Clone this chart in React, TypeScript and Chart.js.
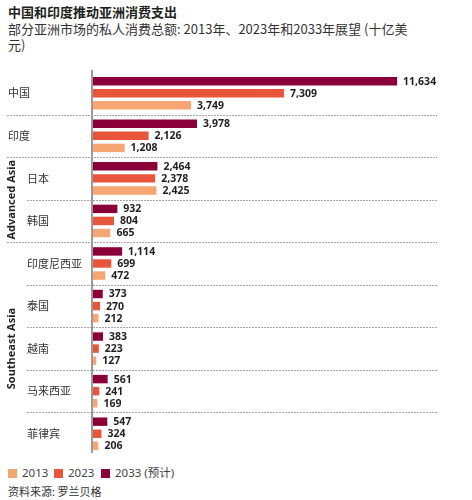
import { useEffect, useRef } from "react";
import { Chart, registerables, type Plugin } from "chart.js";

Chart.register(...registerables);

const TITLE = "中国和印度推动亚洲消费支出";
const SUBTITLE_1 = "部分亚洲市场的私人消费总额: 2013年、2023年和2033年展望 (十亿美";
const SUBTITLE_2 = "元)";
const SOURCE = "资料来源: 罗兰贝格";

const categories = ["中国", "印度", "日本", "韩国", "印度尼西亚", "泰国", "越南", "马来西亚", "菲律宾"];
const values2033 = [11634, 3978, 2464, 932, 1114, 373, 383, 561, 547];
const values2023 = [7309, 2126, 2378, 804, 699, 270, 223, 241, 324];
const values2013 = [3749, 1208, 2425, 665, 472, 212, 127, 169, 206];

// regional groups (category index ranges)
const groups = [
  { label: "Advanced Asia", from: 2, to: 3 },
  { label: "Southeast Asia", from: 4, to: 8 },
];

const C2033 = "#8b0038";
const C2023 = "#e9553b";
const C2013 = "#f5a673";
const INK = "#231f20";
const SANS = "'Noto Sans', 'Noto Sans CJK SC', sans-serif";
const CJK = "'Noto Sans CJK SC', 'Noto Sans', sans-serif";

const inGroup = (i: number) => groups.some((g) => i >= g.from && i <= g.to);

const decor: Plugin<"bar"> = {
  id: "decor",
  beforeDatasetsDraw(chart) {
    const { ctx, chartArea } = chart;
    const y = chart.scales.y;
    ctx.save();
    // dashed separators between categories
    ctx.strokeStyle = "#a6a6a6";
    ctx.lineWidth = 1;
    ctx.setLineDash([2, 1]);
    for (let i = 0; i < categories.length - 1; i++) {
      const yy = Math.round((y.getPixelForValue(i) + y.getPixelForValue(i + 1)) / 2) + 0.5;
      const sameGroup = groups.some((g) => i >= g.from && i + 1 <= g.to);
      const x0 = sameGroup ? 27 : 7;
      ctx.beginPath();
      ctx.moveTo(x0, yy);
      ctx.lineTo(chartArea.right, yy);
      ctx.stroke();
    }
    ctx.setLineDash([]);
    // vertical axis line
    ctx.strokeStyle = "#9a9a9a";
    ctx.lineWidth = 2;
    ctx.beginPath();
    ctx.moveTo(chartArea.left - 1, chartArea.top - 2);
    ctx.lineTo(chartArea.left - 1, chartArea.bottom - 2);
    ctx.stroke();
    ctx.restore();
  },
  afterDatasetsDraw(chart) {
    const { ctx } = chart;
    const y = chart.scales.y;
    ctx.save();
    // value labels
    ctx.fillStyle = INK;
    ctx.font = `bold 10.5px ${SANS}`;
    ctx.textBaseline = "middle";
    ctx.textAlign = "left";
    chart.data.datasets.forEach((ds, d) => {
      const meta = chart.getDatasetMeta(d);
      meta.data.forEach((el, i) => {
        const v = ds.data[i] as number;
        ctx.fillText(v.toLocaleString("en-US"), el.x + 6, el.y + 0.5);
      });
    });
    // category labels
    ctx.fillStyle = "#333";
    ctx.font = `11px ${CJK}`;
    categories.forEach((c, i) => {
      ctx.fillText(c, inGroup(i) ? 27 : 8, y.getPixelForValue(i));
    });
    // rotated group labels
    ctx.fillStyle = INK;
    ctx.font = `bold 11px ${SANS}`;
    ctx.textAlign = "center";
    groups.forEach((g) => {
      const cy = (y.getPixelForValue(g.from) + y.getPixelForValue(g.to)) / 2;
      ctx.save();
      ctx.translate(12, cy);
      ctx.rotate(-Math.PI / 2);
      ctx.fillText(g.label, 0, 0);
      ctx.restore();
    });
    ctx.restore();
  },
};

function LegendItem({ color, text, left }: { color: string; text: string; left: number }) {
  return (
    <div style={{ position: "absolute", left, top: 0, display: "flex", alignItems: "center", whiteSpace: "nowrap" }}>
      <span style={{ width: 9, height: 9, background: color, display: "inline-block", marginRight: 5 }} />
      <span>{text}</span>
    </div>
  );
}

export default function App() {
  const canvasRef = useRef<HTMLCanvasElement>(null);

  useEffect(() => {
    const canvas = canvasRef.current;
    if (!canvas) return;
    const chart = new Chart(canvas, {
      type: "bar",
      data: {
        labels: categories,
        datasets: [
          { label: "2033 (预计)", data: values2033, backgroundColor: C2033 },
          { label: "2023", data: values2023, backgroundColor: C2023 },
          { label: "2013", data: values2013, backgroundColor: C2013 },
        ],
      },
      options: {
        indexAxis: "y",
        responsive: false,
        animation: false,
        layout: { padding: { left: 93, right: 35, top: 12, bottom: 5 } },
        datasets: { bar: { categoryPercentage: 0.85, barPercentage: 0.7 } },
        plugins: { legend: { display: false }, tooltip: { enabled: false } },
        scales: {
          x: { display: false, min: 0, max: 13160 },
          y: { display: false },
        },
      },
      plugins: [decor],
    });
    return () => chart.destroy();
  }, []);

  return (
    <div style={{ position: "fixed", left: 0, top: 0, width: 472, height: 500, background: "#fff", color: INK, fontFamily: CJK }}>
      <div style={{ position: "absolute", left: 8, top: 4, fontSize: 13, fontWeight: 700, lineHeight: "16px" }}>{TITLE}</div>
      <div style={{ position: "absolute", left: 8, top: 21, fontSize: 13, lineHeight: "16px", color: "#333", whiteSpace: "nowrap" }}>
        {SUBTITLE_1}
        <br />
        {SUBTITLE_2}
      </div>
      <canvas ref={canvasRef} width={472} height={400} style={{ position: "absolute", left: 0, top: 60, width: 472, height: 400 }} />
      <div style={{ position: "absolute", left: 8, top: 466, width: 300, height: 14, fontSize: 11.5, lineHeight: "14px", color: "#444", fontFamily: SANS }}>
        <LegendItem color={C2013} text="2013" left={0} />
        <LegendItem color={C2023} text="2023" left={46} />
        <LegendItem color={C2033} text="2033 (预计)" left={93} />
      </div>
      <div style={{ position: "absolute", left: 8, top: 484, fontSize: 11, lineHeight: "14px", color: "#333" }}>{SOURCE}</div>
    </div>
  );
}
